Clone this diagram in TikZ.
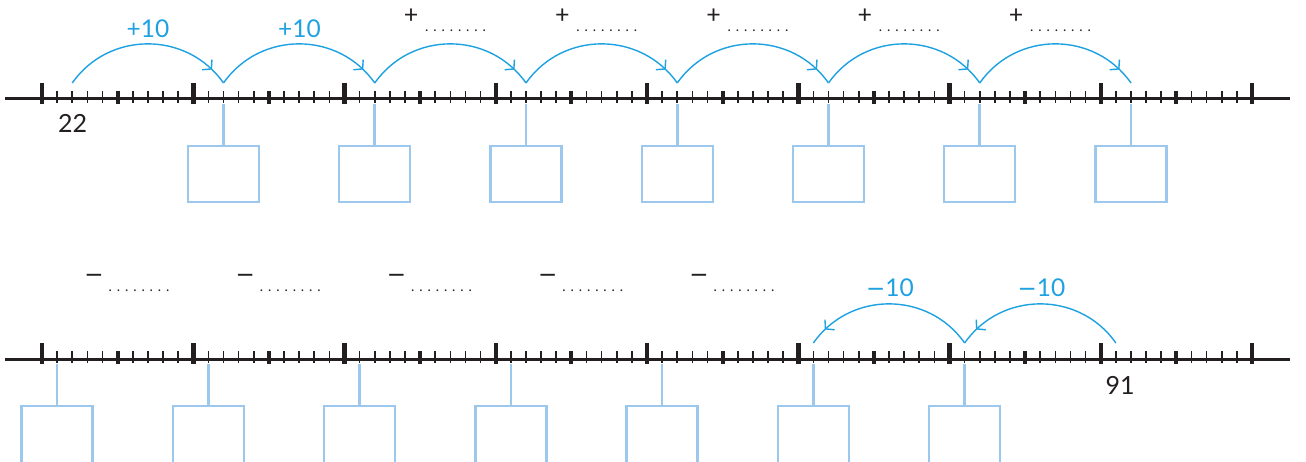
\documentclass[tikz,border=0pt]{standalone}
\usepackage{fontspec}
\setmainfont{Lato}
\newfontfamily\minusfont{DejaVu Sans}
\usetikzlibrary{arrows.meta,decorations.markings}
\definecolor{arcblue}{HTML}{1DA1E1}
\definecolor{boxblue}{HTML}{9CC8EE}
\definecolor{ink}{HTML}{231F20}
\newcommand\dotrow{{\fontsize{14}{16}\selectfont.\kern4.9pt.\kern4.9pt.\kern4.9pt.\kern4.9pt.\kern4.9pt.\kern4.9pt.\kern4.9pt.}}
\newcommand\mns{{\minusfont\fontsize{23}{28}\selectfont −}}
\begin{document}
\begin{tikzpicture}[x=1pt,y=1pt,
  numline/.style={ink,line width=3pt},
  majortick/.style={ink,line width=4.5pt},
  medtick/.style={ink,line width=4pt},
  mintick/.style={ink,line width=1.6pt},
  answerbox/.style={draw=boxblue,line width=2.4pt,minimum width=71pt,minimum height=56pt,inner sep=0pt,anchor=north},
  lowbox/.style={answerbox,minimum height=64pt},
  boxlink/.style={boxblue,line width=2.6pt},
  jump/.style={arcblue,line width=1.4pt,postaction={decorate},
    decoration={markings,mark=at position 0.9 with {\arrow{Straight Barb[length=6pt,width=14pt]}}}},
  jumplabel/.style={text=arcblue,font=\fontsize{24.5}{30}\selectfont,inner sep=0pt,anchor=base},
  numlabel/.style={text=ink,font=\fontsize{25}{30}\selectfont,inner sep=0pt,anchor=base},
  signlabel/.style={text=ink,font=\fontsize{25}{30}\selectfont,inner sep=0pt,anchor=base},
  dotlabel/.style={text=ink,inner sep=0pt,anchor=base west},
]
\useasboundingbox (0,0) rectangle (1306,-462);
% number lines
\foreach \yy in {0,260}{
  \draw[numline] (5,-99-\yy) -- (1290,-99-\yy);
  \foreach \i in {0,...,8}
    \draw[majortick] ({42+151.25*\i},-83-\yy) -- ({42+151.25*\i},-104-\yy);
  \foreach \i in {0,...,7}{
    \draw[medtick] ({42+75.625+151.25*\i},-91-\yy) -- ({42+75.625+151.25*\i},-104-\yy);
    \foreach \j in {1,2,3,4,6,7,8,9}
      \draw[mintick] ({42+151.25*\i+15.125*\j},-91-\yy) -- ({42+151.25*\i+15.125*\j},-103-\yy);
  }
}
% coordinates on the lines
\foreach \v in {22,32,42,52,62,72,82,92}
  \coordinate (T\v) at ({42+15.125*(\v-20)},-99);
\foreach \v in {21,31,41,51,61,71,81,91}
  \coordinate (B\v) at ({42+15.125*(\v-20)},-359);
% top boxes
\foreach \v in {32,42,52,62,72,82,92}{
  \node[answerbox] (TB\v) at ([yshift=-46pt]T\v) {};
  \draw[boxlink] ([yshift=-5pt]T\v) -- (TB\v.north);
}
% bottom boxes
\foreach \v in {21,31,41,51,61,71,81}{
  \node[lowbox] (BB\v) at ([yshift=-46pt]B\v) {};
  \draw[boxlink] ([yshift=-5pt]B\v) -- (BB\v.north);
}
% top jumps
\foreach \a/\b in {22/32,32/42,42/52,52/62,62/72,72/82,82/92}
  \draw[jump] ([yshift=16pt]T\a) to[out=55,in=125,looseness=1.08] ([yshift=16pt]T\b);
% bottom jumps
\foreach \a/\b in {91/81,81/71}
  \draw[jump] ([yshift=16pt]B\a) to[out=125,in=55,looseness=1.08] ([yshift=16pt]B\b);
% labels
\node[numlabel] (n22) at (72.5,-133) {22};
\node[numlabel] (n91) at (1120,-394) {91};
\node[jumplabel] (j1) at (148,-37.5) {+10};
\node[jumplabel] (j2) at (299.5,-37.5) {+10};
\node[jumplabel] (j3) at (890,-296.7) {\mns 10};
\node[jumplabel] (j4) at (1041.5,-296.7) {\mns 10};
\foreach \k in {0,...,4}{
  \node[signlabel] (p\k) at ({411+151.25*\k},-23.7) {+};
  \node[dotlabel] (pd\k) at ({425+151.25*\k},-31.5) {\dotrow};
  \node[signlabel] (m\k) at ({94+151.25*\k},-282.5) {\mns};
  \node[dotlabel] (md\k) at ({108.5+151.25*\k},-291.5) {\dotrow};
}
\end{tikzpicture}
\end{document}
